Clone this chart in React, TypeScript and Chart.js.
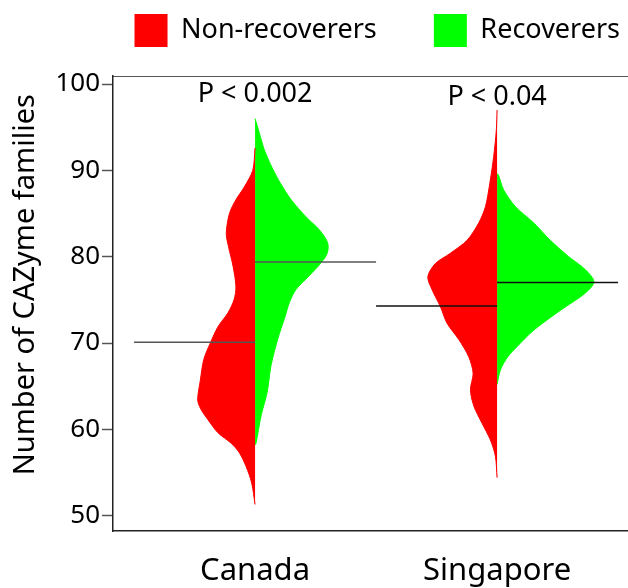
import React, { useEffect, useRef } from 'react';
import { Chart, registerables } from 'chart.js';

Chart.register(...registerables);

const categories = ['Canada', 'Singapore'];
const seriesNames = ['Non-recoverers', 'Recoverers'];
const seriesColors = ['#ff0000', '#00ff00'];
const yTicks = [50, 60, 70, 80, 90, 100];
const pValueLabels = ['P < 0.002', 'P < 0.04'];
const pValueY = [98.85, 98.5];

const nonRecovererMedians = [70.1, 74.3];
const recovererMedians = [79.4, 77.0];
const medianColors = ['#555555', '#111111'];

// Kernel density profiles: value levels and half-widths (x-axis units)
const canadaNonRecLevels = [92.6, 90.0, 88.1, 86.6, 85.0, 82.7, 81.2, 78.9, 76.5, 75.0, 73.5, 71.9, 70.0, 68.1, 65.7, 63.4, 62.3, 61.1, 59.6, 58.4, 57.3, 55.7, 53.8, 51.3];
const canadaNonRecWidths = [0, 0.0095, 0.044, 0.079, 0.106, 0.119, 0.110, 0.091, 0.079, 0.087, 0.112, 0.153, 0.185, 0.212, 0.226, 0.237, 0.223, 0.194, 0.153, 0.099, 0.065, 0.037, 0.014, 0];

const canadaRecLevels = [96.0, 94.3, 92.4, 90.4, 88.5, 86.6, 84.6, 83.1, 81.6, 80.4, 79.3, 77.8, 76.2, 74.7, 72.8, 70.5, 67.4, 64.3, 61.6, 58.4, 58.2];
const canadaRecWidths = [0, 0.018, 0.038, 0.069, 0.105, 0.149, 0.211, 0.266, 0.300, 0.298, 0.273, 0.224, 0.169, 0.142, 0.121, 0.094, 0.066, 0.050, 0.025, 0.004, 0];

const singaporeNonRecLevels = [97.0, 94.7, 91.6, 88.5, 85.8, 83.9, 81.9, 80.4, 79.2, 77.7, 76.2, 74.2, 72.3, 70.4, 68.4, 66.5, 64.6, 62.7, 60.7, 58.8, 56.9, 54.4];
const singaporeNonRecWidths = [0, 0.003, 0.014, 0.030, 0.048, 0.076, 0.124, 0.193, 0.255, 0.286, 0.269, 0.234, 0.207, 0.158, 0.117, 0.099, 0.110, 0.096, 0.062, 0.028, 0.007, 0];

const singaporeRecLevels = [89.6, 89.5, 87.7, 85.8, 83.9, 81.9, 80.0, 78.5, 77.1, 75.8, 73.8, 71.5, 69.6, 68.4, 66.9, 65.2];
const singaporeRecWidths = [0, 0.005, 0.028, 0.076, 0.152, 0.220, 0.296, 0.365, 0.400, 0.365, 0.262, 0.152, 0.083, 0.044, 0.014, 0];

const profiles = [
  [
    { levels: canadaNonRecLevels, widths: canadaNonRecWidths },
    { levels: canadaRecLevels, widths: canadaRecWidths },
  ],
  [
    { levels: singaporeNonRecLevels, widths: singaporeNonRecWidths },
    { levels: singaporeRecLevels, widths: singaporeRecWidths },
  ],
];

const FONT = 'Noto Sans';

const pValuePlugin = {
  id: 'pValues',
  afterDatasetsDraw(chart: any) {
    const { ctx, scales } = chart;
    ctx.save();
    ctx.font = `27px "${FONT}"`;
    ctx.fillStyle = '#000';
    ctx.textAlign = 'center';
    ctx.textBaseline = 'middle';
    pValueLabels.forEach((t, i) => {
      ctx.fillText(t, scales.x.getPixelForValue(i + 1), scales.y.getPixelForValue(pValueY[i]));
    });
    ctx.restore();
  },
};

export default function App() {
  const ref = useRef<HTMLCanvasElement | null>(null);

  useEffect(() => {
    if (!ref.current) return;
    const datasets: any[] = [];
    categories.forEach((cat, ci) => {
      const center = ci + 1;
      profiles[ci].forEach((p, si) => {
        const side = si === 0 ? -1 : 1;
        datasets.push({
          label: `${cat} ${seriesNames[si]}`,
          data: p.levels.map((v, k) => ({ x: center + side * p.widths[k], y: v })),
          backgroundColor: seriesColors[si],
          borderColor: seriesColors[si],
          borderWidth: 1,
          pointRadius: 0,
          tension: 0.3,
          fill: 'shape',
          order: 2,
        });
      });
    });
    categories.forEach((cat, ci) => {
      const center = ci + 1;
      datasets.push({
        label: `${cat} median ${seriesNames[0]}`,
        data: [{ x: center - 0.5, y: nonRecovererMedians[ci] }, { x: center, y: nonRecovererMedians[ci] }],
        borderColor: medianColors[ci],
        borderWidth: 1.5,
        pointRadius: 0,
        fill: false,
        order: 0,
      });
      datasets.push({
        label: `${cat} median ${seriesNames[1]}`,
        data: [{ x: center, y: recovererMedians[ci] }, { x: center + 0.5, y: recovererMedians[ci] }],
        borderColor: medianColors[ci],
        borderWidth: 1.5,
        pointRadius: 0,
        fill: false,
        order: 0,
      });
    });

    const chart = new Chart(ref.current, {
      type: 'line',
      data: { datasets },
      plugins: [pValuePlugin],
      options: {
        animation: false,
        responsive: true,
        maintainAspectRatio: false,
        events: [],
        layout: { padding: { top: 6, left: 0, right: 0, bottom: 0 } },
        plugins: {
          tooltip: { enabled: false },
          legend: {
            display: true,
            position: 'top',
            align: 'end',
            labels: {
              boxWidth: 33,
              boxHeight: 33,
              padding: 8,
              color: '#000',
              font: { family: FONT, size: 27 },
              generateLabels: () =>
                seriesNames.map((n, i) => ({
                  text: i === 0 ? n + '\u00a0'.repeat(7) : n,
                  fillStyle: seriesColors[i],
                  strokeStyle: seriesColors[i],
                  lineWidth: 0,
                  hidden: false,
                  datasetIndex: i,
                })),
            },
          },
        },
        scales: {
          x: {
            type: 'linear',
            position: 'bottom',
            min: 0.413,
            max: 2.541,
            afterBuildTicks: (s: any) => {
              s.ticks = categories.map((_, i) => ({ value: i + 1 }));
            },
            afterFit: (s: any) => {
              s.height = 57;
            },
            ticks: {
              autoSkip: false,
              maxRotation: 0,
              padding: 14,
              color: '#000',
              font: { family: FONT, size: 31 },
              callback: (v: any) => categories[Math.round(Number(v)) - 1] ?? '',
            },
            grid: { display: false },
            border: { display: true, color: '#222', width: 1.5 },
          },
          x2: {
            type: 'linear',
            position: 'top',
            display: true,
            min: 0,
            max: 1,
            ticks: { display: false },
            grid: { display: false },
            border: { display: true, color: '#555', width: 1 },
            afterFit: (s: any) => {
              s.height = 19;
            },
          },
          y: {
            type: 'linear',
            min: 48.23,
            max: 100.93,
            afterBuildTicks: (s: any) => {
              s.ticks = yTicks.map((v) => ({ value: v }));
            },
            afterFit: (s: any) => {
              s.width = 113;
            },
            ticks: {
              padding: 2,
              color: '#000',
              font: { family: FONT, size: 26 },
            },
            grid: {
              display: true,
              drawOnChartArea: false,
              drawTicks: true,
              tickLength: 11,
              tickColor: '#555',
              tickWidth: 1.5,
            },
            border: { display: true, color: '#222', width: 1.5 },
            title: {
              display: true,
              text: '\u00a0'.repeat(5) + 'Number of CAZyme families',
              color: '#000',
              font: { family: FONT, size: 29 },
              padding: { top: 8, bottom: 0 },
            },
          },
        },
      } as any,
    });
    return () => chart.destroy();
  }, []);

  return (
    <div style={{ position: 'absolute', left: 0, top: 0, width: 628, height: 588 }}>
      <canvas ref={ref} />
    </div>
  );
}
